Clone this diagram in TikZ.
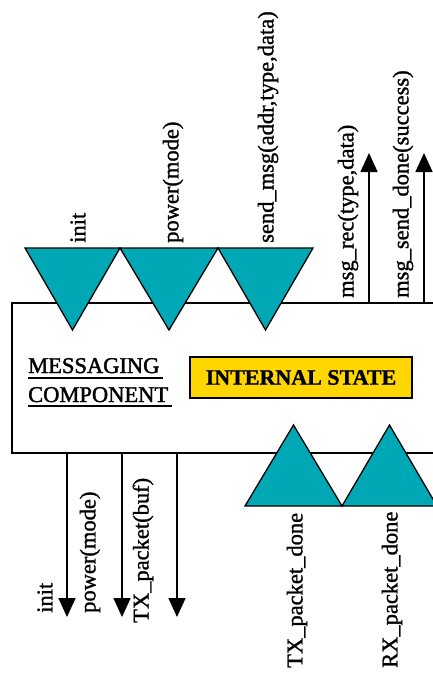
\documentclass[tikz,border=0pt]{standalone}
\usepackage{fontspec}
\setmainfont{Liberation Serif}[FakeBold=1.2]
\newfontfamily\titlefont{Liberation Serif}[FakeBold=1.8]
\usetikzlibrary{arrows.meta}
\definecolor{tealfill}{RGB}{0,168,181}
\definecolor{goldfill}{RGB}{255,214,0}
\begin{document}
\begin{tikzpicture}[x=1pt,y=-1pt,
  lbl/.style={rotate=90,anchor=west,inner sep=0pt,font=\fontsize{22.5}{26}\selectfont},
  tri/.style={fill=tealfill,draw=black,line width=1.3pt,line join=miter},
  sig/.style={line width=1.6pt,-{Triangle[width=17pt,length=19pt]}},
  boxline/.style={line width=1.6pt},
  title/.style={anchor=base west,inner sep=0pt,font=\titlefont\fontsize{22.5}{26}\selectfont}]
\useasboundingbox (0,0) rectangle (433,673);
% component outline (extends past right edge)
\coordinate (tr) at (440,303);
\coordinate (br) at (440,453);
\draw[boxline] (tr) -| (12,453) -- (br);
% internal state
\node (state) [draw=black,line width=1.3pt,fill=goldfill,minimum width=222pt,minimum height=41pt,inner sep=0pt,
  font=\bfseries\fontsize{22}{24}\selectfont] at (301,377.5) {INTERNAL STATE};
% title
\node (t1) [title] at (28,373) {MESSAGING};
\node (t2) [title] at (28,402) {COMPONENT};
\draw[line width=1.5pt] (28,378) -- (163,378);
\draw[line width=1.5pt] (28,406) -- (172,406);
% outgoing arrows up
\coordinate (ua1) at (369,303); \coordinate (ua1e) at (369,153);
\coordinate (ua2) at (424,303); \coordinate (ua2e) at (424,153);
\draw[sig] (ua1) -- (ua1e);
\draw[sig] (ua2) -- (ua2e);
% downward arrows
\coordinate (da1) at (67,453);  \coordinate (da1e) at (67,617);
\coordinate (da2) at (122,453); \coordinate (da2e) at (122,617);
\coordinate (da3) at (177,453); \coordinate (da3e) at (177,617);
\draw[sig] (da1) -- (da1e);
\draw[sig] (da2) -- (da2e);
\draw[sig] (da3) -- (da3e);
% top triangles
\draw[tri] (25,248) -- (120,248) -- (72.5,330) -- cycle;
\draw[tri] (120,248) -- (218,248) -- (169,330) -- cycle;
\draw[tri] (218,248) -- (313,248) -- (265.5,330) -- cycle;
% bottom triangles
\draw[tri] (245,506) -- (342,506) -- (293.5,425) -- cycle;
\draw[tri] (342,506) -- (437,506) -- (389.5,425) -- cycle;
% labels top
\node (l1) [lbl] at (78,243) {init};
\node (l2) [lbl] at (173,243) {power(mode)};
\node (l3) [lbl] at (268,243) {send\_msg(addr,type,data)};
\node (l4) [lbl] at (348,298) {msg\_rec(type,data)};
\node (l5) [lbl] at (403,298) {msg\_send\_done(success)};
% labels bottom
\node (b1) [lbl] at (45,613) {init};
\node (b2) [lbl] at (90,613) {power(mode)};
\node (b3) [lbl] at (143,623) {TX\_packet(buf)};
\node (b4) [lbl] at (297,668) {TX\_packet\_done};
\node (b5) [lbl] at (392,668) {RX\_packet\_done};
\end{tikzpicture}
\end{document}
